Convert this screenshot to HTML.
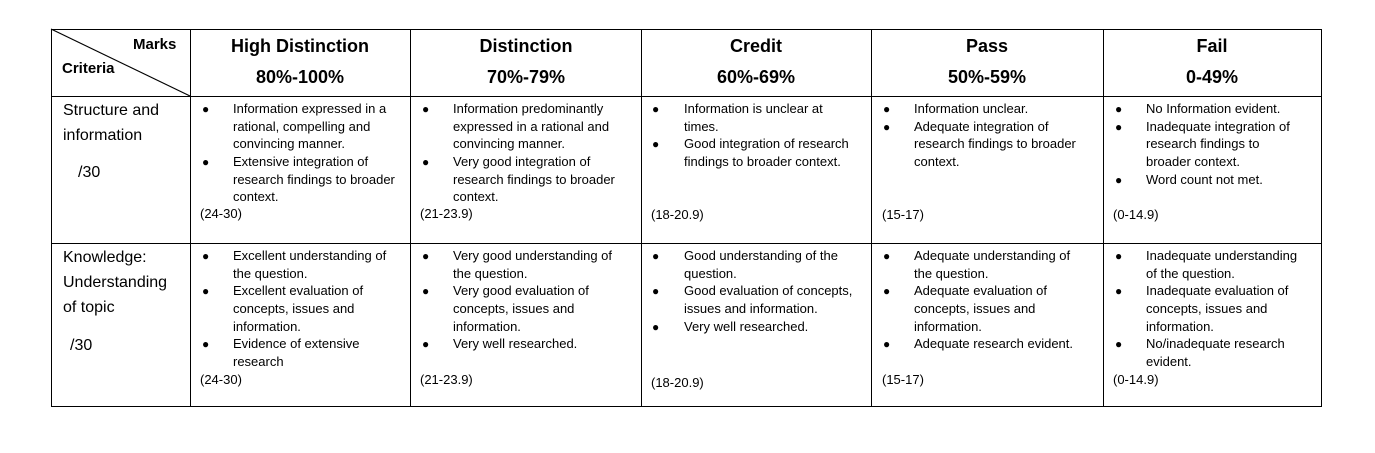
<!DOCTYPE html>
<html><head><meta charset="utf-8"><style>
body{margin:0;background:#fff;width:1375px;height:453px;position:relative;overflow:hidden;font-family:"Liberation Sans",sans-serif;color:#000}
.l{position:absolute;background:#000}
.t{position:absolute;font-size:13px;line-height:18px;white-space:nowrap}
.b{position:absolute;font-size:12px;line-height:18px}
.h{position:absolute;font-size:18px;font-weight:bold;line-height:20px;white-space:nowrap;transform:translateX(-50%)}
.c{position:absolute;font-size:16px;line-height:20px;white-space:nowrap}
</style></head><body>
<div class="l" style="left:51px;top:29px;width:1271px;height:1px"></div>
<div class="l" style="left:51px;top:96px;width:1271px;height:1px"></div>
<div class="l" style="left:51px;top:243px;width:1271px;height:1px"></div>
<div class="l" style="left:51px;top:406px;width:1271px;height:1px"></div>
<div class="l" style="left:51px;top:29px;width:1px;height:378px"></div>
<div class="l" style="left:190px;top:29px;width:1px;height:378px"></div>
<div class="l" style="left:410px;top:29px;width:1px;height:378px"></div>
<div class="l" style="left:641px;top:29px;width:1px;height:378px"></div>
<div class="l" style="left:871px;top:29px;width:1px;height:378px"></div>
<div class="l" style="left:1103px;top:29px;width:1px;height:378px"></div>
<div class="l" style="left:1321px;top:29px;width:1px;height:378px"></div>
<svg style="position:absolute;left:0;top:0" width="1375" height="453"><line x1="51" y1="29" x2="190" y2="96" stroke="#000" stroke-width="1.2"/></svg>
<div class="c" style="left:133px;top:35px;font-weight:bold;font-size:15px">Marks</div>
<div class="c" style="left:62px;top:59px;font-weight:bold;font-size:15px">Criteria</div>
<div class="h" style="left:300px;top:36px">High Distinction</div><div class="h" style="left:300px;top:67px">80%-100%</div>
<div class="h" style="left:526px;top:36px">Distinction</div><div class="h" style="left:526px;top:67px">70%-79%</div>
<div class="h" style="left:756px;top:36px">Credit</div><div class="h" style="left:756px;top:67px">60%-69%</div>
<div class="h" style="left:987px;top:36px">Pass</div><div class="h" style="left:987px;top:67px">50%-59%</div>
<div class="h" style="left:1212px;top:36px">Fail</div><div class="h" style="left:1212px;top:67px">0-49%</div>
<div class="c" style="left:63px;top:101px">Structure and</div>
<div class="c" style="left:63px;top:126px">information</div>
<div class="c" style="left:78px;top:163px">/30</div>
<div class="c" style="left:63px;top:248px">Knowledge:</div>
<div class="c" style="left:63px;top:273px">Understanding</div>
<div class="c" style="left:63px;top:298px">of topic</div>
<div class="c" style="left:70px;top:336px">/30</div>

<!-- Row 1 -->
<div class="b" style="left:202px;top:100px">●</div>
<div class="t" style="left:233px;top:100px">Information expressed in a</div>
<div class="t" style="left:233px;top:118px">rational, compelling and</div>
<div class="t" style="left:233px;top:135px">convincing manner.</div>
<div class="b" style="left:202px;top:153px">●</div>
<div class="t" style="left:233px;top:153px">Extensive integration of</div>
<div class="t" style="left:233px;top:171px">research findings to broader</div>
<div class="t" style="left:233px;top:188px">context.</div>
<div class="t" style="left:200px;top:205px">(24-30)</div>

<div class="b" style="left:422px;top:100px">●</div>
<div class="t" style="left:453px;top:100px">Information predominantly</div>
<div class="t" style="left:453px;top:118px">expressed in a rational and</div>
<div class="t" style="left:453px;top:135px">convincing manner.</div>
<div class="b" style="left:422px;top:153px">●</div>
<div class="t" style="left:453px;top:153px">Very good integration of</div>
<div class="t" style="left:453px;top:171px">research findings to broader</div>
<div class="t" style="left:453px;top:188px">context.</div>
<div class="t" style="left:420px;top:205px">(21-23.9)</div>

<div class="b" style="left:652px;top:100px">●</div>
<div class="t" style="left:684px;top:100px">Information is unclear at</div>
<div class="t" style="left:684px;top:118px">times.</div>
<div class="b" style="left:652px;top:135px">●</div>
<div class="t" style="left:684px;top:135px">Good integration of research</div>
<div class="t" style="left:684px;top:153px">findings to broader context.</div>
<div class="t" style="left:651px;top:206px">(18-20.9)</div>

<div class="b" style="left:883px;top:100px">●</div>
<div class="t" style="left:914px;top:100px">Information unclear.</div>
<div class="b" style="left:883px;top:118px">●</div>
<div class="t" style="left:914px;top:118px">Adequate integration of</div>
<div class="t" style="left:914px;top:135px">research findings to broader</div>
<div class="t" style="left:914px;top:153px">context.</div>
<div class="t" style="left:882px;top:206px">(15-17)</div>

<div class="b" style="left:1115px;top:100px">●</div>
<div class="t" style="left:1146px;top:100px">No Information evident.</div>
<div class="b" style="left:1115px;top:118px">●</div>
<div class="t" style="left:1146px;top:118px">Inadequate integration of</div>
<div class="t" style="left:1146px;top:135px">research findings to</div>
<div class="t" style="left:1146px;top:153px">broader context.</div>
<div class="b" style="left:1115px;top:171px">●</div>
<div class="t" style="left:1146px;top:171px">Word count not met.</div>
<div class="t" style="left:1113px;top:206px">(0-14.9)</div>

<!-- Row 2 -->
<div class="b" style="left:202px;top:247px">●</div>
<div class="t" style="left:233px;top:247px">Excellent understanding of</div>
<div class="t" style="left:233px;top:265px">the question.</div>
<div class="b" style="left:202px;top:282px">●</div>
<div class="t" style="left:233px;top:282px">Excellent evaluation of</div>
<div class="t" style="left:233px;top:300px">concepts, issues and</div>
<div class="t" style="left:233px;top:318px">information.</div>
<div class="b" style="left:202px;top:335px">●</div>
<div class="t" style="left:233px;top:335px">Evidence of extensive</div>
<div class="t" style="left:233px;top:353px">research</div>
<div class="t" style="left:200px;top:371px">(24-30)</div>

<div class="b" style="left:422px;top:247px">●</div>
<div class="t" style="left:453px;top:247px">Very good understanding of</div>
<div class="t" style="left:453px;top:265px">the question.</div>
<div class="b" style="left:422px;top:282px">●</div>
<div class="t" style="left:453px;top:282px">Very good evaluation of</div>
<div class="t" style="left:453px;top:300px">concepts, issues and</div>
<div class="t" style="left:453px;top:318px">information.</div>
<div class="b" style="left:422px;top:335px">●</div>
<div class="t" style="left:453px;top:335px">Very well researched.</div>
<div class="t" style="left:420px;top:371px">(21-23.9)</div>

<div class="b" style="left:652px;top:247px">●</div>
<div class="t" style="left:684px;top:247px">Good understanding of the</div>
<div class="t" style="left:684px;top:265px">question.</div>
<div class="b" style="left:652px;top:282px">●</div>
<div class="t" style="left:684px;top:282px">Good evaluation of concepts,</div>
<div class="t" style="left:684px;top:300px">issues and information.</div>
<div class="b" style="left:652px;top:318px">●</div>
<div class="t" style="left:684px;top:318px">Very well researched.</div>
<div class="t" style="left:651px;top:374px">(18-20.9)</div>

<div class="b" style="left:883px;top:247px">●</div>
<div class="t" style="left:914px;top:247px">Adequate understanding of</div>
<div class="t" style="left:914px;top:265px">the question.</div>
<div class="b" style="left:883px;top:282px">●</div>
<div class="t" style="left:914px;top:282px">Adequate evaluation of</div>
<div class="t" style="left:914px;top:300px">concepts, issues and</div>
<div class="t" style="left:914px;top:318px">information.</div>
<div class="b" style="left:883px;top:335px">●</div>
<div class="t" style="left:914px;top:335px">Adequate research evident.</div>
<div class="t" style="left:882px;top:371px">(15-17)</div>

<div class="b" style="left:1115px;top:247px">●</div>
<div class="t" style="left:1146px;top:247px">Inadequate understanding</div>
<div class="t" style="left:1146px;top:265px">of the question.</div>
<div class="b" style="left:1115px;top:282px">●</div>
<div class="t" style="left:1146px;top:282px">Inadequate evaluation of</div>
<div class="t" style="left:1146px;top:300px">concepts, issues and</div>
<div class="t" style="left:1146px;top:318px">information.</div>
<div class="b" style="left:1115px;top:335px">●</div>
<div class="t" style="left:1146px;top:335px">No/inadequate research</div>
<div class="t" style="left:1146px;top:353px">evident.</div>
<div class="t" style="left:1113px;top:371px">(0-14.9)</div>
</body></html>
